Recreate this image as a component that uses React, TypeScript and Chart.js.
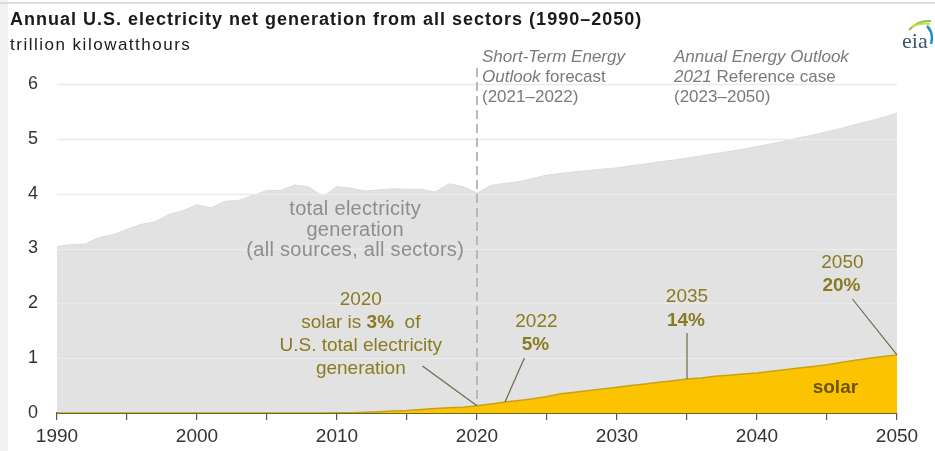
import React, { useEffect, useRef } from 'react';
import { Chart, registerables } from 'chart.js';

Chart.register(...registerables);

const years = [
  1990, 1991, 1992, 1993, 1994, 1995, 1996, 1997, 1998, 1999,
  2000, 2001, 2002, 2003, 2004, 2005, 2006, 2007, 2008, 2009,
  2010, 2011, 2012, 2013, 2014, 2015, 2016, 2017, 2018, 2019,
  2020, 2021, 2022, 2023, 2024, 2025, 2026, 2027, 2028, 2029,
  2030, 2031, 2032, 2033, 2034, 2035, 2036, 2037, 2038, 2039,
  2040, 2041, 2042, 2043, 2044, 2045, 2046, 2047, 2048, 2049,
  2050,
];

// trillion kWh
const totalGeneration = [
  3.04, 3.07, 3.08, 3.2, 3.25, 3.35, 3.44, 3.49, 3.62, 3.69,
  3.8, 3.74, 3.86, 3.88, 3.97, 4.06, 4.06, 4.16, 4.12, 3.95,
  4.13, 4.1, 4.05, 4.07, 4.09, 4.08, 4.08, 4.03, 4.18, 4.13,
  4.01, 4.15, 4.19, 4.22, 4.28, 4.34, 4.37, 4.4, 4.42, 4.45,
  4.47, 4.51, 4.54, 4.58, 4.61, 4.65, 4.69, 4.73, 4.77, 4.81,
  4.86, 4.91, 4.96, 5.02, 5.07, 5.13, 5.19, 5.26, 5.32, 5.39,
  5.47,
];

const solarGeneration = [
  0.0, 0.0, 0.0, 0.0, 0.0, 0.0, 0.0, 0.0, 0.0, 0.0,
  0.0, 0.0, 0.0, 0.0, 0.0, 0.0, 0.0, 0.001, 0.002, 0.002,
  0.004, 0.006, 0.012, 0.022, 0.035, 0.045, 0.062, 0.08, 0.094, 0.107,
  0.131, 0.163, 0.2, 0.23, 0.26, 0.3, 0.35, 0.38, 0.41, 0.44,
  0.47, 0.5, 0.53, 0.56, 0.59, 0.62, 0.64, 0.67, 0.69, 0.71,
  0.73, 0.76, 0.79, 0.82, 0.85, 0.88, 0.92, 0.96, 1.0, 1.03,
  1.06,
];

const yTicks = [0, 1, 2, 3, 4, 5, 6];
const xLabelYears = [1990, 2000, 2010, 2020, 2030, 2040, 2050];
const forecastStartYear = 2020;
const calloutYears = [2020, 2022, 2035, 2050];

const FONT = "'Liberation Sans', Arial, sans-serif";
const NARROW = "'Liberation Sans Narrow', 'Liberation Sans', Arial, sans-serif";
const OLIVE = '#8a7a22';

type Seg = { t: string; b?: boolean; i?: boolean };

function drawRich(
  ctx: CanvasRenderingContext2D,
  segs: Seg[],
  x: number,
  y: number,
  align: 'left' | 'center',
  size: number,
  color: string,
  spacing = 0,
) {
  const c: any = ctx;
  const fonts = segs.map((s) => `${s.i ? 'italic ' : ''}${s.b ? 'bold ' : ''}${size}px ${FONT}`);
  c.letterSpacing = '0px';
  const widths = segs.map((s, k) => {
    ctx.font = fonts[k];
    return ctx.measureText(s.t).width + spacing * s.t.length;
  });
  const total = widths.reduce((a, b) => a + b, 0);
  let cx = align === 'center' ? x - total / 2 : x;
  ctx.textBaseline = 'middle';
  ctx.textAlign = 'left';
  ctx.fillStyle = color;
  c.letterSpacing = `${spacing}px`;
  segs.forEach((s, k) => {
    ctx.font = fonts[k];
    ctx.fillText(s.t, cx, y);
    cx += widths[k];
  });
  c.letterSpacing = '0px';
}

const gridPlugin = {
  id: 'midGrid',
  afterDatasetDraw(chart: any, args: any) {
    if (args.index !== 0) return;
    const { ctx, chartArea: ca, scales } = chart;
    const y = scales.y;
    ctx.save();
    ctx.strokeStyle = '#ebebeb';
    ctx.lineWidth = 1.5;
    y.ticks.forEach((t: any) => {
      if (t.value === 0) return;
      const py = Math.round(y.getPixelForValue(t.value)) + 0.5;
      ctx.beginPath();
      ctx.moveTo(ca.left, py);
      ctx.lineTo(ca.right, py);
      ctx.stroke();
    });
    ctx.restore();
  },
};

const annotatePlugin = {
  id: 'annotate',
  afterDraw(chart: any) {
    const { ctx, chartArea: ca, scales } = chart;
    const x = scales.x;
    const y = scales.y;
    const solarAt = (yr: number) => solarGeneration[years.indexOf(yr)];
    const px = (yr: number) => x.getPixelForValue(yr);
    const py = (v: number) => y.getPixelForValue(v);

    ctx.save();
    // frame decorations
    ctx.fillStyle = '#f1f1f1';
    ctx.fillRect(0, 0, 8, chart.height);
    ctx.strokeStyle = '#d2d2d2';
    ctx.lineWidth = 1.5;
    ctx.beginPath();
    ctx.moveTo(0, 3);
    ctx.lineTo(chart.width, 3);
    ctx.stroke();

    // dashed forecast divider
    const xd = px(forecastStartYear);
    ctx.setLineDash([9, 5]);
    ctx.strokeStyle = '#b8b8b8';
    ctx.lineWidth = 2;
    ctx.beginPath();
    ctx.moveTo(xd, ca.top - 16);
    ctx.lineTo(xd, py(solarAt(forecastStartYear)));
    ctx.stroke();
    ctx.setLineDash([]);

    // title
    drawRich(ctx, [{ t: 'Annual U.S. electricity net generation from all sectors (1990\u20132050)', b: true }], 10, 20, 'left', 18, '#1a1a1a', 1);
    drawRich(ctx, [{ t: 'trillion kilowatthours' }], 10, 45, 'left', 17, '#1a1a1a', 1.5);

    // header notes
    const hc = '#7a7a7a';
    const h1 = xd + 5;
    drawRich(ctx, [{ t: 'Short-Term Energy', i: true }], h1, 57, 'left', 17, hc);
    drawRich(ctx, [{ t: 'Outlook', i: true }, { t: ' forecast' }], h1, 77, 'left', 17, hc);
    drawRich(ctx, [{ t: '(2021\u20132022)' }], h1, 97, 'left', 17, hc);
    const h2 = px(2034) + 1;
    drawRich(ctx, [{ t: 'Annual Energy Outlook', i: true }], h2, 57, 'left', 17, hc);
    drawRich(ctx, [{ t: '2021', i: true }, { t: ' Reference case' }], h2, 77, 'left', 17, hc);
    drawRich(ctx, [{ t: '(2023\u20132050)' }], h2, 97, 'left', 17, hc);

    // total label
    const gc = '#8d8d8d';
    const tx = px(2011.3);
    drawRich(ctx, [{ t: 'total electricity' }], tx, 209, 'center', 20, gc, 0.3);
    drawRich(ctx, [{ t: 'generation' }], tx, 230, 'center', 20, gc, 0.3);
    drawRich(ctx, [{ t: '(all sources, all sectors)' }], tx, 250, 'center', 20, gc, 0.3);

    // callouts
    const leader = (x1: number, y1: number, yr: number) => {
      ctx.strokeStyle = '#6e6a4c';
      ctx.lineWidth = 1.2;
      ctx.beginPath();
      ctx.moveTo(x1, y1);
      ctx.lineTo(px(yr), py(solarAt(yr)));
      ctx.stroke();
    };
    const [c20, c22, c35, c50] = calloutYears;

    const a = px(2011.7);
    drawRich(ctx, [{ t: '2020' }], a, 300, 'center', 19, OLIVE);
    drawRich(ctx, [{ t: 'solar is ' }, { t: '3%', b: true }, { t: '  of' }], a, 323, 'center', 19, OLIVE);
    drawRich(ctx, [{ t: 'U.S. total electricity' }], a, 346, 'center', 19, OLIVE);
    drawRich(ctx, [{ t: 'generation' }], a, 369, 'center', 19, OLIVE);
    leader(px(2016.1), 366, c20);

    const b = px(2034.1) - 139;
    drawRich(ctx, [{ t: '2022' }], b + 1, 322, 'center', 19, OLIVE);
    drawRich(ctx, [{ t: '5%', b: true }], b, 345, 'center', 19, OLIVE);
    leader(b - 11, 358, c22);

    const c = px(c35);
    drawRich(ctx, [{ t: '2035' }], c, 297, 'center', 19, OLIVE);
    drawRich(ctx, [{ t: '14%', b: true }], c - 1, 321, 'center', 19, OLIVE);
    ctx.strokeStyle = '#6e6a4c';
    ctx.lineWidth = 1.2;
    ctx.beginPath();
    ctx.moveTo(c, 333);
    ctx.lineTo(c, py(solarAt(c35)));
    ctx.stroke();

    const d = px(2046.1);
    drawRich(ctx, [{ t: '2050' }], d, 263, 'center', 19, OLIVE);
    drawRich(ctx, [{ t: '20%', b: true }], d - 1, 286, 'center', 19, OLIVE);
    leader(d + 10, 299, c50);

    drawRich(ctx, [{ t: 'solar', b: true }], px(2045.6), 388, 'center', 19, '#6a5600');

    // eia logo
    ctx.font = `22px 'Liberation Serif', 'DejaVu Serif', serif`;
    ctx.fillStyle = '#3e5670';
    ctx.textAlign = 'left';
    ctx.textBaseline = 'alphabetic';
    ctx.fillText('eia', 902, 48);
    ctx.lineWidth = 2;
    ctx.strokeStyle = '#8cc63f';
    ctx.beginPath();
    ctx.moveTo(909, 30);
    ctx.quadraticCurveTo(918, 20, 931, 21);
    ctx.stroke();
    ctx.strokeStyle = '#c8dc4a';
    ctx.beginPath();
    ctx.moveTo(912, 27);
    ctx.quadraticCurveTo(920, 22, 930, 24);
    ctx.stroke();
    ctx.strokeStyle = '#1f8fc8';
    ctx.lineWidth = 2.5;
    ctx.beginPath();
    ctx.moveTo(927, 26);
    ctx.quadraticCurveTo(934, 33, 931, 44);
    ctx.stroke();
    ctx.restore();
  },
};

export default function App() {
  const ref = useRef<HTMLCanvasElement | null>(null);

  useEffect(() => {
    if (!ref.current) return;
    const chart = new Chart(ref.current, {
      type: 'line',
      data: {
        datasets: [
          {
            label: 'total electricity generation',
            data: years.map((yr, k) => ({ x: yr, y: totalGeneration[k] })),
            borderColor: '#dcdcdc',
            borderWidth: 1,
            backgroundColor: '#e2e2e2',
            fill: 'origin',
            pointRadius: 0,
            tension: 0,
            order: 2,
          },
          {
            label: 'solar',
            data: years.map((yr, k) => ({ x: yr, y: solarGeneration[k] })),
            borderColor: '#c9a213',
            borderWidth: 1.5,
            backgroundColor: '#fcc300',
            fill: 'origin',
            pointRadius: 0,
            tension: 0,
            order: 1,
          },
        ],
      },
      options: {
        responsive: false,
        animation: false,
        events: [],
        layout: { padding: { left: 10, right: 38, top: 84, bottom: 0 } },
        plugins: {
          legend: { display: false },
          tooltip: { enabled: false },
          title: { display: false },
        },
        scales: {
          x: {
            type: 'linear',
            min: years[0],
            max: years[years.length - 1],
            z: 2,
            afterFit: (s: any) => {
              s.height = 38;
            },
            grid: {
              drawOnChartArea: false,
              drawTicks: true,
              tickLength: 7,
              color: '#555555',
              lineWidth: 1.2,
            },
            border: { display: true, color: '#6b6532', width: 2 },
            ticks: {
              stepSize: 5,
              autoSkip: false,
              maxRotation: 0,
              padding: 5,
              color: '#333333',
              font: { family: NARROW, size: 19 },
              callback: (v: any) => (xLabelYears.includes(Number(v)) ? String(v) : ''),
            },
          },
          y: {
            type: 'linear',
            min: yTicks[0],
            max: yTicks[yTicks.length - 1],
            afterFit: (s: any) => {
              s.width = 47;
            },
            grid: { display: false, drawTicks: false },
            border: { display: false },
            ticks: {
              stepSize: 1,
              padding: 19,
              color: '#333333',
              font: { family: FONT, size: 18 },
            },
          },
        },
      },
      plugins: [gridPlugin, annotatePlugin],
    });
    return () => chart.destroy();
  }, []);

  return (
    <div style={{ position: 'absolute', left: 0, top: 0, width: 935, height: 451, background: '#ffffff' }}>
      <canvas ref={ref} width={935} height={451} style={{ display: 'block', width: 935, height: 451 }} />
    </div>
  );
}
